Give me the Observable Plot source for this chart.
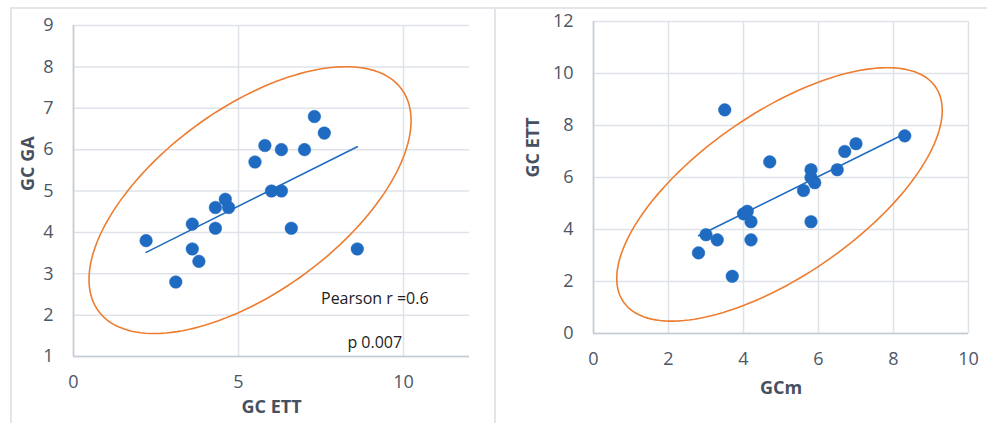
<!DOCTYPE html>
<html>
<head>
<meta charset="utf-8">
<script src="https://cdn.jsdelivr.net/npm/d3@7"></script>
<script src="https://cdn.jsdelivr.net/npm/@observablehq/plot@0.6"></script>
<style>
  body { margin: 0; background: #fff; }
  #wrap { position: relative; width: 987px; height: 423px; overflow: hidden; background: #fff; }
  .bd { position: absolute; background: #e2e5ea; }
  .panel { position: absolute; top: 0; }
</style>
</head>
<body>
<div id="wrap">
  <div class="bd" style="left:10px;top:7px;width:977px;height:1.5px"></div>
  <div class="bd" style="left:10px;top:7px;width:1.5px;height:416px"></div>
  <div class="bd" style="left:494px;top:7px;width:1.5px;height:416px"></div>
  <div id="left" class="panel" style="left:0"></div>
  <div id="right" class="panel" style="left:490px"></div>
</div>
<script>
// ---- Left chart: GC ETT (x) vs GC GA (y)
const leftX = [2.2, 3.1, 3.6, 3.6, 3.8, 4.3, 4.3, 4.6, 4.7, 5.5, 5.8, 6.0, 6.3, 6.3, 6.6, 7.0, 7.3, 7.6, 8.6];
const leftY = [3.8, 2.8, 4.2, 3.6, 3.3, 4.6, 4.1, 4.8, 4.6, 5.7, 6.1, 5.0, 6.0, 5.0, 4.1, 6.0, 6.8, 6.4, 3.6];
const leftXTicks = [0, 5, 10];
const leftYTicks = [1, 2, 3, 4, 5, 6, 7, 8, 9];
const leftXLabel = "GC ETT";
const leftYLabel = "GC GA";
const leftNotes = [
  {x: 7.5, y: 2.4, text: "Pearson r =0.6"},
  {x: 8.3, y: 1.34, text: "p 0.007"}
];
// ellipse annotation (centre, conjugate semi-axes in data units)
const leftEllipse = {cx: 5.35, cy: 4.78, ax: 4.88, ay: 1.92, by: 2.59};

// ---- Right chart: GCm (x) vs GC ETT (y)
const rightX = [3.5, 4.7, 8.3, 7.0, 6.7, 6.5, 5.8, 5.8, 5.9, 5.6, 5.8, 4.0, 4.1, 4.2, 4.2, 3.0, 3.3, 2.8, 3.7];
const rightY = [8.6, 6.6, 7.6, 7.3, 7.0, 6.3, 6.3, 6.0, 5.8, 5.5, 4.3, 4.6, 4.7, 4.3, 3.6, 3.8, 3.6, 3.1, 2.2];
const rightXTicks = [0, 2, 4, 6, 8, 10];
const rightYTicks = [0, 2, 4, 6, 8, 10, 12];
const rightXLabel = "GCm";
const rightYLabel = "GC ETT";
const rightEllipse = {cx: 4.96, cy: 5.35, ax: 4.34, ay: 3.23, by: 3.65};

const BLUE = "#1f6bc1";
const ORANGE = "#ed7d31";
const GRID = "#dfe3e9";
const AXIS = "#c3cad4";
const TICK = "#4c5666";
const TITLE = "#465060";

function ellipsePts(e) {
  const n = 160, pts = [];
  for (let i = 0; i < n; i++) {
    const t = (i / n) * 2 * Math.PI;
    pts.push({x: e.cx + e.ax * Math.cos(t), y: e.cy + e.ay * Math.cos(t) + e.by * Math.sin(t)});
  }
  return pts;
}

function panel(opts) {
  const data = opts.xs.map((x, i) => ({x, y: opts.ys[i]}));
  return Plot.plot({
    width: opts.width, height: 423,
    marginLeft: opts.ml, marginRight: opts.mr, marginTop: opts.mt, marginBottom: opts.mb,
    style: {fontFamily: "'Open Sans', sans-serif", fontSize: "18px", color: TICK, background: "transparent", overflow: "visible"},
    x: {domain: opts.xDomain, ticks: opts.xTicks, tickSize: 0, tickPadding: 19, label: null, tickFormat: d => String(d)},
    y: {domain: opts.yDomain, ticks: opts.yTicks, tickSize: 0, tickPadding: 20, label: null, tickFormat: d => String(d)},
    marks: [
      Plot.ruleY(opts.yTicks, {stroke: GRID, strokeWidth: 1.5}),
      Plot.ruleX(opts.xTicks, {stroke: GRID, strokeWidth: 1.5}),
      Plot.ruleX([opts.xDomain[0]], {stroke: AXIS, strokeWidth: 1.5}),
      Plot.ruleY([opts.yDomain[0]], {stroke: AXIS, strokeWidth: 1.5}),
      Plot.line(ellipsePts(opts.ellipse), {x: "x", y: "y", curve: "linear-closed", stroke: ORANGE, strokeWidth: 1.6}),
      Plot.dot(data, {x: "x", y: "y", r: 6.3, fill: BLUE, stroke: BLUE, strokeWidth: 0.5}),
      Plot.linearRegressionY(data, {x: "x", y: "y", stroke: BLUE, strokeWidth: 1.6, ci: 0}),
      Plot.text(opts.notes || [], {x: "x", y: "y", text: "text", textAnchor: "start", fill: "#222", fontSize: 16}),
      Plot.text([opts.xLabel], {text: d => d, frameAnchor: "bottom", dy: opts.xlDy, fontWeight: "bold", fontSize: 18, fill: TITLE}),
      Plot.text([opts.yLabel], {text: d => d, frameAnchor: "left", dx: opts.ylDx, rotate: -90, fontWeight: "bold", fontSize: 18, fill: TITLE})
    ]
  });
}

document.getElementById("left").appendChild(panel({
  width: 490, ml: 73, mr: 21, mt: 25, mb: 67,
  xs: leftX, ys: leftY, xDomain: [0, 12], yDomain: [1, 9],
  xTicks: leftXTicks, yTicks: leftYTicks, ellipse: leftEllipse, notes: leftNotes,
  xLabel: leftXLabel, yLabel: leftYLabel, xlDy: 56, ylDx: -45
}));

document.getElementById("right").appendChild(panel({
  width: 497, ml: 103, mr: 19, mt: 21, mb: 90,
  xs: rightX, ys: rightY, xDomain: [0, 10], yDomain: [0, 12],
  xTicks: rightXTicks, yTicks: rightYTicks, ellipse: rightEllipse,
  xLabel: rightXLabel, yLabel: rightYLabel, xlDy: 60, ylDx: -60
}));
</script>
</body>
</html>
